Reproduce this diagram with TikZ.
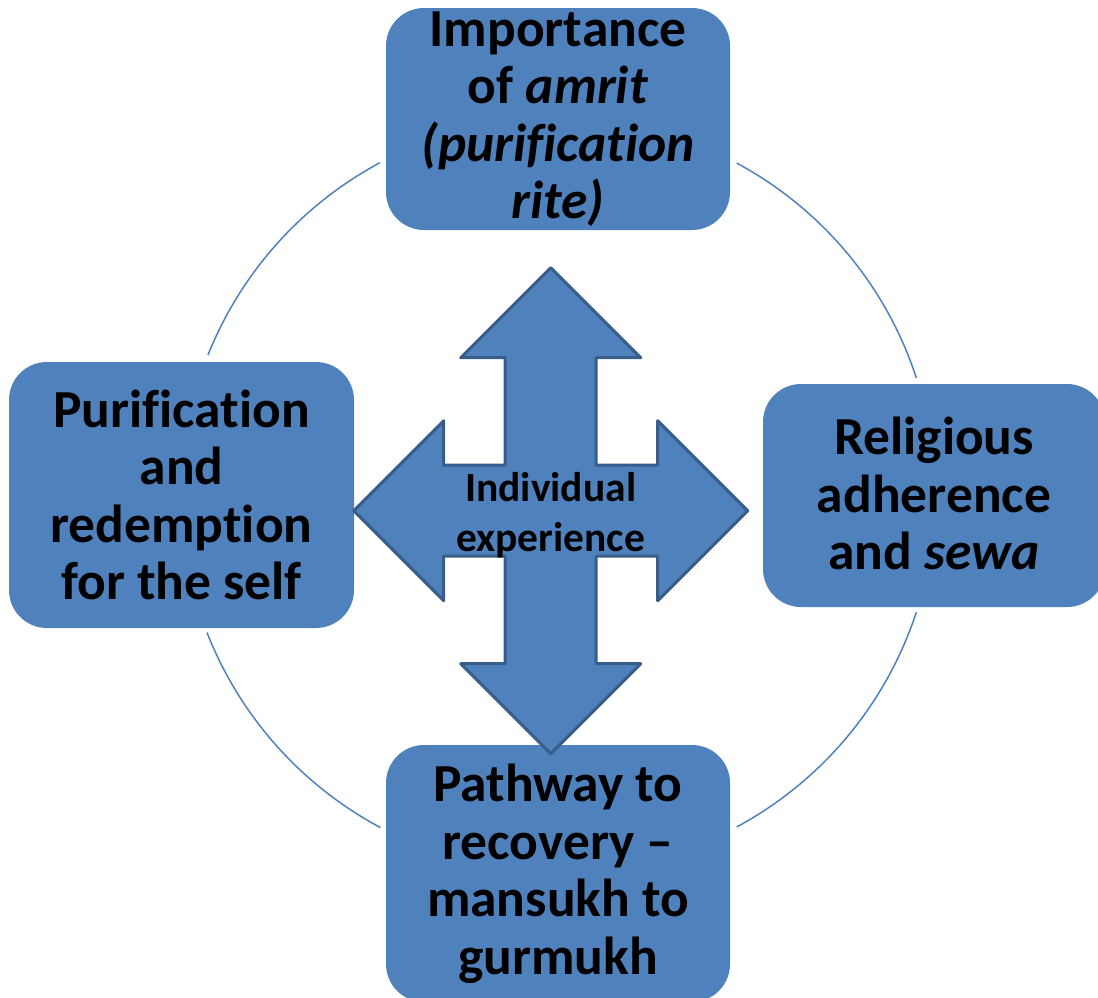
\documentclass[tikz,border=0pt]{standalone}
\usepackage{fontspec}
\setmainfont{Carlito}[Ligatures=NoCommon]
\definecolor{boxblue}{RGB}{79,129,189}
\definecolor{edgeblue}{RGB}{56,93,138}
\begin{document}
\begin{tikzpicture}[x=1pt,y=-1pt,
  topic/.style={fill=boxblue, draw=none, rounded corners=38pt, inner sep=0pt},
  topictext/.style={align=center, inner sep=0pt, text=black,
    font=\fontsize{53.5}{57.5}\selectfont\bfseries},
  ring/.style={draw=boxblue, line width=1.5pt},
  quadarrow/.style={fill=boxblue, draw=edgeblue, line width=3pt, line join=round},
  hub/.style={align=center, inner sep=0pt, text=black,
    font=\fontsize{41.5}{50}\selectfont\bfseries}]
\useasboundingbox (0,0) rectangle (1098,997);
\clip (0,0) rectangle (1098,997);

% ring behind the four topics
\coordinate (ctr) at (558,495);
\draw[ring] (ctr) ++(-118.2:377) arc[start angle=-118.2, end angle=-158.2, radius=377];
\draw[ring] (ctr) ++(-201.4:377) arc[start angle=-201.4, end angle=-241.9, radius=377];
\draw[ring] (ctr) ++(-298.3:377) arc[start angle=-298.3, end angle=-341.9, radius=377];
\draw[ring] (ctr) ++(-18.1:377) arc[start angle=-18.1, end angle=-61.7, radius=377];

% topic boxes
\node[topic, minimum width=344pt, minimum height=222pt] (amrit) at (558,119) {};
\node[topic, minimum width=345pt, minimum height=266pt] (self) at (181.5,495) {};
\node[topic, minimum width=342pt, minimum height=223pt] (sewa) at (934,495.5) {};
\node[topic, minimum width=344pt, minimum height=257pt] (path) at (558,873.5) {};

\node[topictext] (amritlbl) at (amrit.center) {Importance\\of \textit{amrit}\\\textit{(purification}\\\textit{rite)}};
\node[topictext] (selflbl) at (self.center) {Purification\\and\\redemption\\for the self};
\node[topictext] (sewalbl) at ([yshift=2pt]sewa.center) {Religious\\adherence\\and \textit{sewa}};
\node[topictext] (pathlbl) at (path.center) {Pathway to\\recovery \textendash\\mansukh to\\gurmukh};

% four-way arrow in the middle
\coordinate (hubc) at (550.7,510.7);
\draw[quadarrow] (hubc)
  ++(0,-243) -- ++(90,90) -- ++(-44.5,0) -- ++(0,107.5) -- ++(61.5,0)
  -- ++(0,-44.5) -- ++(90,90) -- ++(-90,90) -- ++(0,-44.5) -- ++(-61.5,0)
  -- ++(0,107.5) -- ++(44.5,0) -- ++(-90,90) -- ++(-90,-90) -- ++(44.5,0)
  -- ++(0,-107.5) -- ++(-61.5,0) -- ++(0,44.5) -- ++(-90,-90) -- ++(90,-90)
  -- ++(0,44.5) -- ++(61.5,0) -- ++(0,-107.5) -- ++(-44.5,0) -- cycle;

\node[hub] (hublbl) at ([yshift=-4pt]hubc) {Individual\\experience};
\end{tikzpicture}
\end{document}
